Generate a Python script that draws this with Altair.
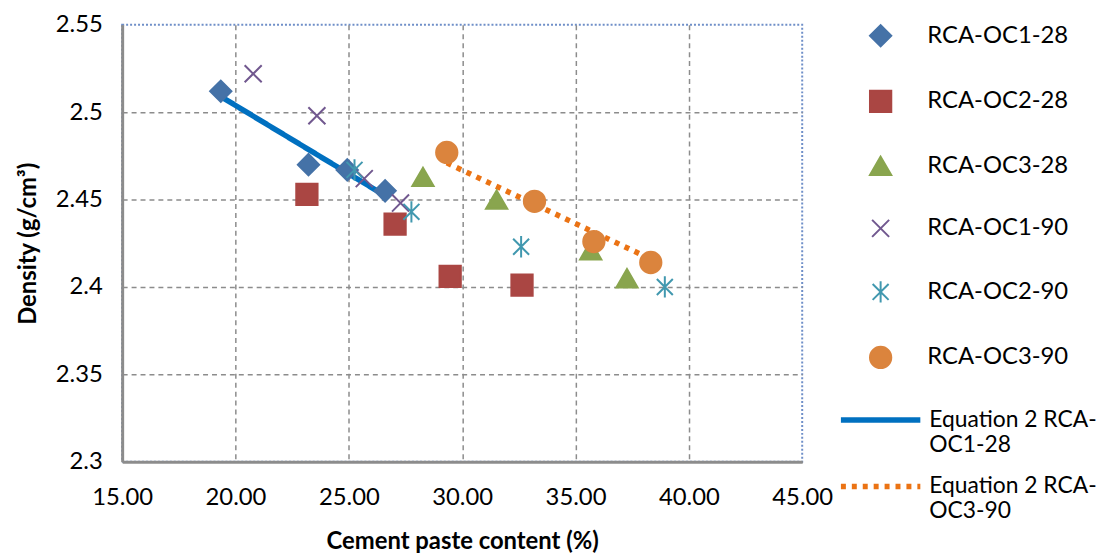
import altair as alt
import pandas as pd

# ---- data ----
series_names = ["RCA-OC1-28", "RCA-OC2-28", "RCA-OC3-28", "RCA-OC1-90", "RCA-OC2-90", "RCA-OC3-90"]
oc1_28_x = [19.35, 23.22, 24.93, 26.60]
oc1_28_y = [2.512, 2.470, 2.467, 2.455]
oc2_28_x = [23.15, 27.04, 29.47, 32.64]
oc2_28_y = [2.453, 2.436, 2.406, 2.401]
oc3_28_x = [28.27, 31.52, 35.67, 37.27]
oc3_28_y = [2.463, 2.450, 2.421, 2.405]
oc1_90_x = [20.78, 23.59, 25.68, 27.28]
oc1_90_y = [2.522, 2.498, 2.462, 2.448]
oc2_90_x = [25.25, 27.76, 32.60, 38.94]
oc2_90_y = [2.467, 2.443, 2.423, 2.400]
oc3_90_x = [29.32, 33.19, 35.81, 38.32]
oc3_90_y = [2.477, 2.449, 2.426, 2.414]

fit_names = ["Equation 2 RCA-OC1-28", "Equation 2 RCA-OC3-90"]
eq_oc1_28_x = [19.35, 26.50]
eq_oc1_28_y = [2.509, 2.453]
eq_oc3_90_x = [29.32, 38.32]
eq_oc3_90_y = [2.471, 2.416]

x_ticks = [15, 20, 25, 30, 35, 40, 45]
y_ticks = [2.3, 2.35, 2.4, 2.45, 2.5, 2.55]

# ---- tables ----
xs = [oc1_28_x, oc2_28_x, oc3_28_x, oc1_90_x, oc2_90_x, oc3_90_x]
ys = [oc1_28_y, oc2_28_y, oc3_28_y, oc1_90_y, oc2_90_y, oc3_90_y]
rows = []
for name, xl, yl in zip(series_names, xs, ys):
    for a, b in zip(xl, yl):
        rows.append({"series": name, "x": a, "y": b})
pts = pd.DataFrame(rows)

lrows = []
for name, xl, yl in zip(fit_names, [eq_oc1_28_x, eq_oc3_90_x], [eq_oc1_28_y, eq_oc3_90_y]):
    for a, b in zip(xl, yl):
        lrows.append({"fit": name, "x": a, "y": b})
lines = pd.DataFrame(lrows)

stroke_colors = ["#4572A7", "#AA4643", "#89A54E", "#71588F", "#4198AF", "#DB843D"]
fill_colors = ["#4572A7", "#AA4643", "#89A54E", "transparent", "transparent", "#DB843D"]
shapes = [
    "diamond",
    "square",
    "triangle-up",
    "M-0.8,-0.8L0.8,0.8M-0.8,0.8L0.8,-0.8",
    "M-0.75,-0.75L0.75,0.75M-0.75,0.75L0.75,-0.75M0,-1L0,1",
    "circle",
]

FONT = "Lato"

x_enc = alt.X(
    "x:Q",
    scale=alt.Scale(domain=[15, 45], nice=False, zero=False),
    axis=alt.Axis(
        values=x_ticks,
        format=".2f",
        title="Cement paste content (%)",
        labelPadding=24,
        titlePadding=20,
        labelFlush=False,
        labelOverlap=False,
        gridOpacity={"condition": {"test": "datum.value == 45", "value": 0}, "value": 1},
    ),
)
y_enc = alt.Y(
    "y:Q",
    scale=alt.Scale(domain=[2.3, 2.55], nice=False, zero=False),
    axis=alt.Axis(
        values=y_ticks,
        format="~g",
        title="Density (g/cm³)",
        labelPadding=20,
        titlePadding=15,
        labelFlush=False,
        labelOverlap=False,
        gridOpacity={"condition": {"test": "datum.value == 2.55", "value": 0}, "value": 1},
    ),
)

line_legend = alt.Legend(
    title=None,
    orient="none",
    legendX=741,
    legendY=375,
    symbolType="M-2,0L2,0",
    symbolSize=1600,
    symbolStrokeWidth=5.5,
    labelFont=FONT,
    labelFontSize=23,
    labelColor="black",
    labelOffset=26,
    labelLimit=400,
    rowPadding=7,
    labelBaseline="middle",
    labelExpr="[slice(datum.label, 0, 15), slice(datum.label, 15)]",
    padding=0,
)

line_layer = alt.Chart(lines).mark_line(strokeWidth=5.5, strokeCap="butt").encode(
    x=x_enc,
    y=y_enc,
    detail="fit:N",
    color=alt.Color(
        "fit:N",
        scale=alt.Scale(domain=fit_names, range=["#0070C0", "#EB7314"]),
        legend=line_legend,
    ),
    strokeDash=alt.StrokeDash(
        "fit:N",
        scale=alt.Scale(domain=fit_names, range=[[1, 0], [5, 6]]),
        legend=line_legend,
    ),
)

pt_legend = alt.Legend(
    title=None,
    orient="none",
    legendX=752,
    legendY=-1,
    labelFont=FONT,
    labelFontSize=24,
    labelColor="black",
    labelOffset=35,
    labelLimit=400,
    symbolSize=460,
    symbolStrokeWidth=2,
    rowPadding=36,
    padding=0,
)

point_layer = alt.Chart(pts).mark_point(filled=False, size=460, strokeWidth=2, opacity=1).encode(
    x=x_enc,
    y=y_enc,
    stroke=alt.Stroke("series:N", scale=alt.Scale(domain=series_names, range=stroke_colors), legend=pt_legend),
    fill=alt.Fill("series:N", scale=alt.Scale(domain=series_names, range=fill_colors), legend=pt_legend),
    shape=alt.Shape("series:N", scale=alt.Scale(domain=series_names, range=shapes), legend=pt_legend),
)

chart = (
    alt.layer(line_layer, point_layer)
    .resolve_scale(color="independent", strokeDash="independent")
    .properties(
        width=685,
        height=440,
        autosize=alt.AutoSizeParams(type="none"),
        padding={"left": 115, "top": 15, "right": 303, "bottom": 90},
        background="white",
    )
    .configure_view(stroke="#6F8FC8", strokeDash=[2, 2], strokeWidth=2)
    .configure_axis(
        gridColor="#8C8C8C",
        gridDash=[5, 4],
        gridWidth=1.5,
        domainColor="#8C8C8C",
        domainWidth=3,
        ticks=False,
        labelFont=FONT,
        labelFontSize=24,
        labelColor="black",
        titleFont=FONT,
        titleFontSize=24,
        titleFontWeight="bold",
        titleColor="black",
    )
)

chart.save("out.html", embed_options={"renderer": "svg", "actions": False})
